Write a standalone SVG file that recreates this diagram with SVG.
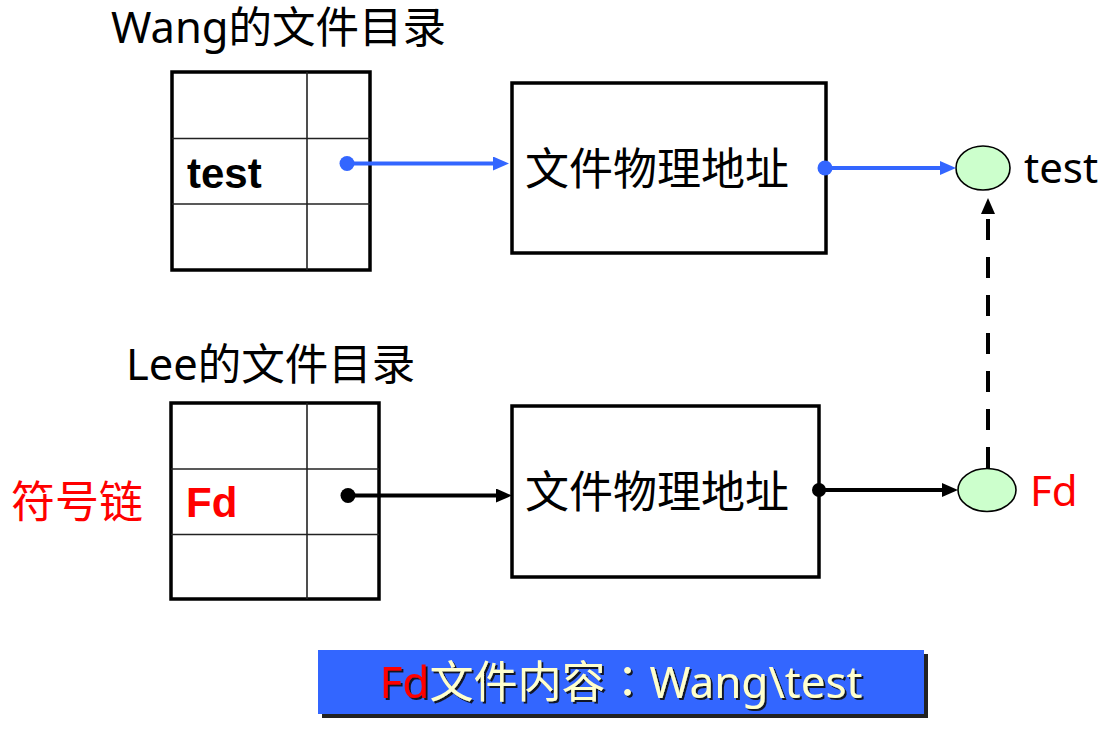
<svg xmlns="http://www.w3.org/2000/svg" width="1100" height="729" viewBox="0 0 1100 729">
<style>
.lbl{font-family:"Noto Sans","Noto Sans CJK SC",sans-serif;font-size:43.5px;fill:#000}
.cjk{font-family:"Noto Sans","Noto Sans CJK SC",sans-serif;font-size:44px;fill:#000}
.bold{font-family:"Liberation Sans",Arial,sans-serif;font-weight:bold;font-size:42px}
.outer{fill:#fff;stroke:#000;stroke-width:3.5}
.inner{stroke:#222;stroke-width:1.6;fill:none}
.box{fill:#fff;stroke:#000;stroke-width:3.5}
.ell{fill:#CCFFCC;stroke:#000;stroke-width:1.6}
.blue{stroke:#3366FF;stroke-width:4;fill:none}
.blk{stroke:#000;stroke-width:4;fill:none}
.banner{font-family:"Noto Sans","Noto Sans CJK SC",sans-serif;font-size:44px}
</style>
<defs>
<marker id="aBlue" viewBox="0 0 16 14" refX="2" refY="7" markerWidth="16" markerHeight="14" markerUnits="userSpaceOnUse" orient="auto"><path d="M0,0 L16,7 L0,14 z" fill="#3366FF"/></marker>
<marker id="aBlack" viewBox="0 0 16 14" refX="2" refY="7" markerWidth="16" markerHeight="14" markerUnits="userSpaceOnUse" orient="auto"><path d="M0,0 L16,7 L0,14 z" fill="#000"/></marker>
<filter id="sh" x="-5%" y="-20%" width="110%" height="140%"><feDropShadow dx="2" dy="2" stdDeviation="0.6" flood-color="#111" flood-opacity="0.9"/></filter>
</defs>
<rect width="1100" height="729" fill="#fff"/>

<g id="wang-dir">
<text class="lbl" x="111" y="43">Wang的文件目录</text>
<rect class="outer" x="172" y="72" width="198" height="198"/>
<line class="inner" x1="172" y1="138.5" x2="370" y2="138.5"/>
<line class="inner" x1="172" y1="204" x2="370" y2="204"/>
<line class="inner" x1="307" y1="72" x2="307" y2="270"/>
<text class="bold" x="187" y="188" fill="#000">test</text>
</g>

<g id="lee-dir">
<text class="lbl" x="126" y="380">Lee的文件目录</text>
<text class="cjk" x="11" y="518" style="fill:#FF0000">符号链</text>
<rect class="outer" x="171" y="403" width="208" height="196"/>
<line class="inner" x1="171" y1="469" x2="379" y2="469"/>
<line class="inner" x1="171" y1="534.5" x2="379" y2="534.5"/>
<line class="inner" x1="307" y1="403" x2="307" y2="599"/>
<text class="bold" x="186" y="517" fill="#FF0000">Fd</text>
</g>

<g id="addr-top">
<rect class="box" x="512" y="83" width="314" height="170"/>
<text class="cjk" x="525" y="185">文件物理地址</text>
</g>

<g id="addr-bottom">
<rect class="box" x="512" y="406" width="307" height="171"/>
<text class="cjk" x="525" y="508">文件物理地址</text>
</g>

<g id="file-test">
<ellipse class="ell" cx="983" cy="168" rx="27" ry="22"/>
<text class="lbl" x="1024" y="183" style="font-size:42px">test</text>
</g>

<g id="file-fd">
<ellipse class="ell" cx="987" cy="490" rx="29" ry="21.5"/>
<text class="lbl" x="1030" y="506" style="font-size:42px;fill:#FF0000">Fd</text>
</g>

<g id="connectors">
<line class="blue" x1="347" y1="163.5" x2="495" y2="163.5" marker-end="url(#aBlue)"/>
<circle cx="347" cy="163.5" r="7.5" fill="#3366FF"/>
<line class="blue" x1="825" y1="168" x2="942" y2="168" marker-end="url(#aBlue)"/>
<circle cx="825" cy="168" r="7.5" fill="#3366FF"/>
<line class="blk" x1="348" y1="495.5" x2="498" y2="495.5" marker-end="url(#aBlack)"/>
<circle cx="348" cy="495.5" r="7.5" fill="#000"/>
<line class="blk" x1="819" y1="490" x2="944" y2="490" marker-end="url(#aBlack)"/>
<circle cx="819" cy="490" r="7" fill="#000"/>
<line class="blk" x1="988" y1="468" x2="988" y2="212" stroke-width="4.5" stroke-dasharray="21 17" marker-end="url(#aBlack)"/>
</g>

<g id="banner">
<rect x="322" y="654" width="606" height="64" fill="#222"/>
<rect x="318" y="650" width="606" height="64" fill="#3366FF"/>
<text class="banner" x="621" y="698" text-anchor="middle" fill="#FFFFCC" filter="url(#sh)"><tspan fill="#FF0000">Fd</tspan>文件内容<tspan style="font-family:'Noto Sans CJK TC',sans-serif">：</tspan>Wang\test</text>
</g>
</svg>
